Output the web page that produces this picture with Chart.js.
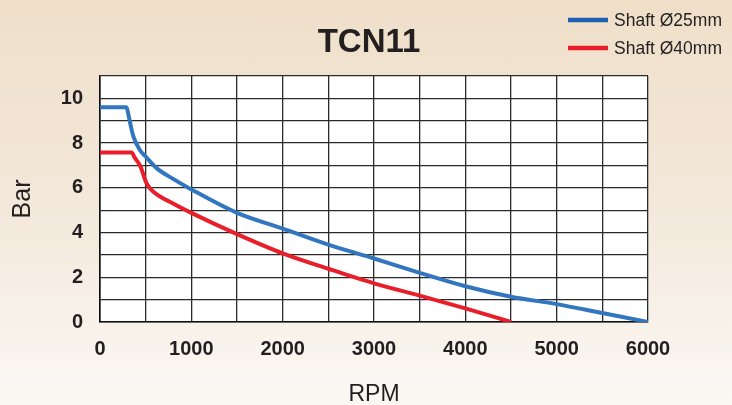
<!DOCTYPE html>
<html>
<head>
<meta charset="utf-8">
<script src="https://cdn.jsdelivr.net/npm/chart.js@4/dist/chart.umd.min.js"></script>
<style>
  html, body { margin: 0; padding: 0; }
  body {
    width: 732px; height: 405px; overflow: hidden;
    background: linear-gradient(to bottom, #efdfc9 0%, #f3e8da 50%, #fbf8f4 100%);
  }
  canvas { display: block; }
</style>
</head>
<body>
<canvas id="chart" width="732" height="405"></canvas>
<script>
const chartTitle = "TCN11";
const seriesNames = ["Shaft Ø25mm", "Shaft Ø40mm"];

// Shaft Ø25mm curve
const rpm25 = [0, 290, 310, 330, 365, 438, 500, 620, 800, 1000, 1500, 2000, 2500, 3000, 3500, 4000, 4500, 5000, 5500, 6000];
const bar25 = [9.6, 9.6, 9.3, 8.9, 8.3, 7.68, 7.4, 6.88, 6.4, 5.93, 4.88, 4.18, 3.46, 2.84, 2.2, 1.6, 1.13, 0.8, 0.4, 0];

// Shaft Ø40mm curve
const rpm40 = [0, 345, 380, 440, 510, 585, 800, 1000, 1500, 2000, 2500, 3000, 3500, 4000, 4500];
const bar40 = [7.58, 7.58, 7.35, 6.98, 6.2, 5.82, 5.3, 4.88, 3.93, 3.07, 2.38, 1.73, 1.18, 0.61, 0];

const xTickLabels = [0, 1000, 2000, 3000, 4000, 5000, 6000];
const yTickLabels = [0, 2, 4, 6, 8, 10];

const toPoints = (xs, ys) => xs.map((x, i) => ({ x: x, y: ys[i] }));

const BLUE = "#3276c0";
const RED = "#e81f2a";
const TEXT = "#231f20";
const FONT = "'Liberation Sans', Arial, sans-serif";

// white plot area + title + legend
const decor = {
  id: "decor",
  beforeDraw(chart) {
    const { ctx, chartArea: a } = chart;
    ctx.save();
    ctx.fillStyle = "#ffffff";
    ctx.fillRect(a.left, a.top, a.right - a.left, a.bottom - a.top);
    ctx.restore();
  },
  afterDraw(chart) {
    const ctx = chart.ctx;
    ctx.save();
    ctx.fillStyle = TEXT;
    ctx.font = "bold 33px " + FONT;
    ctx.textAlign = "center";
    ctx.textBaseline = "middle";
    ctx.fillText(chartTitle, 369, 43);

    const cols = ["#1f5fb0", RED];
    const ys = [20, 48];
    ctx.font = "17.5px " + FONT;
    ctx.textAlign = "left";
    seriesNames.forEach((name, i) => {
      ctx.strokeStyle = cols[i];
      ctx.lineWidth = 4.5;
      ctx.beginPath();
      ctx.moveTo(568, ys[i]);
      ctx.lineTo(608, ys[i]);
      ctx.stroke();
      ctx.fillStyle = TEXT;
      ctx.fillText(name, 614, ys[i] + 1);
    });
    ctx.restore();
  }
};

new Chart(document.getElementById("chart"), {
  type: "line",
  data: {
    datasets: [
      {
        label: seriesNames[0],
        data: toPoints(rpm25, bar25),
        borderColor: BLUE,
        borderWidth: 4,
        pointRadius: 0,
        cubicInterpolationMode: "monotone",
        fill: false
      },
      {
        label: seriesNames[1],
        data: toPoints(rpm40, bar40),
        borderColor: RED,
        borderWidth: 4,
        pointRadius: 0,
        cubicInterpolationMode: "monotone",
        fill: false
      }
    ]
  },
  options: {
    responsive: false,
    animation: false,
    layout: { padding: { top: 76, right: 84, left: 0, bottom: 0 } },
    plugins: {
      legend: { display: false },
      title: { display: false },
      tooltip: { enabled: false }
    },
    scales: {
      x: {
        type: "linear",
        min: 0,
        max: 6000,
        afterFit(scale) { scale.height = 83; },
        grid: { color: "#2a2a2a", lineWidth: 1.3, drawTicks: false },
        border: { display: true, color: "#111", width: 1.6 },
        ticks: {
          stepSize: 500,
          padding: 15,
          maxRotation: 0,
          autoSkip: false,
          color: TEXT,
          font: { family: FONT, size: 20, weight: "bold" },
          callback: (v) => (xTickLabels.includes(v) ? String(v) : "")
        },
        title: {
          display: true,
          text: "RPM",
          color: TEXT,
          padding: 0,
          font: { family: FONT, size: 23, lineHeight: 0.9 }
        }
      },
      y: {
        min: 0,
        max: 11,
        afterFit(scale) { scale.width = 100; },
        grid: { color: "#2a2a2a", lineWidth: 1.3, drawTicks: false },
        border: { display: true, color: "#111", width: 1.6 },
        ticks: {
          stepSize: 1,
          padding: 17,
          autoSkip: false,
          color: TEXT,
          font: { family: FONT, size: 20, weight: "bold" },
          callback: (v) => (yTickLabels.includes(v) ? String(v) : "")
        },
        title: {
          display: true,
          text: "Bar",
          color: TEXT,
          padding: 8,
          font: { family: FONT, size: 25 }
        }
      }
    }
  },
  plugins: [decor]
});
</script>
</body>
</html>
